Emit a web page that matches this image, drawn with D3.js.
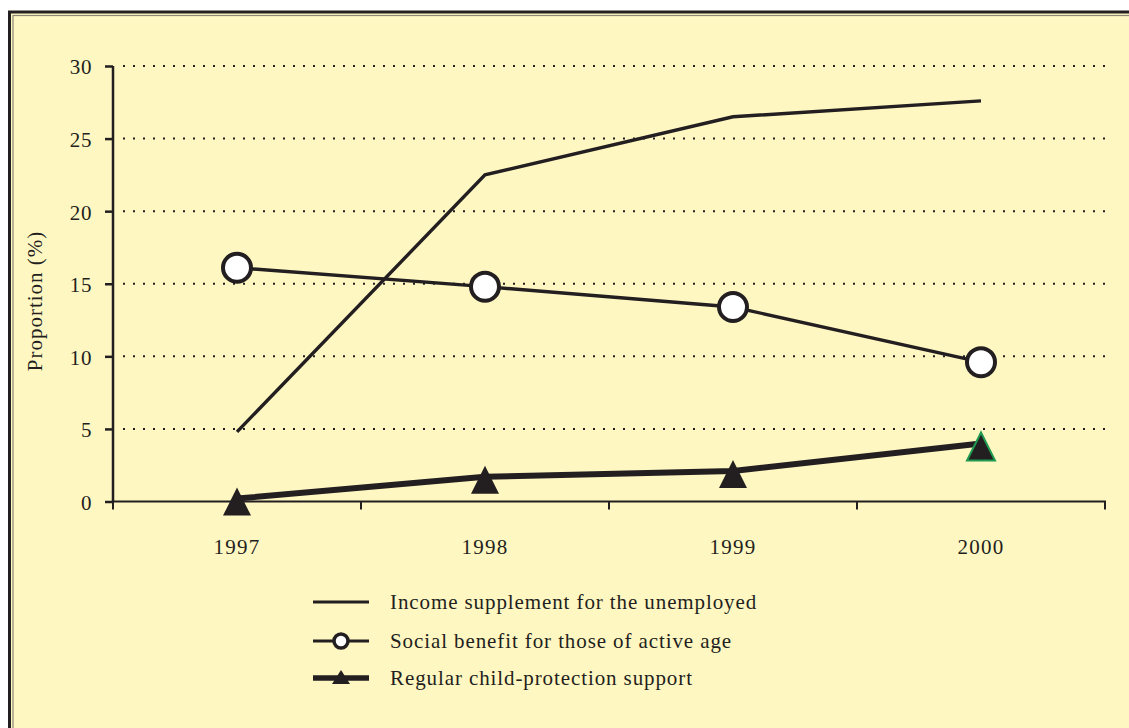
<!DOCTYPE html>
<html><head><meta charset="utf-8">
<script src="https://cdn.jsdelivr.net/npm/d3@7"></script>
<style>
html,body{margin:0;padding:0;background:#fff;}
svg{display:block;}
text{font-family:"Liberation Serif","DejaVu Serif",serif;fill:#231f20;}
</style></head>
<body>
<svg id="chart" width="1129" height="728"></svg>
<script>
const years = ["1997","1998","1999","2000"];
const yTicks = [0,5,10,15,20,25,30];
const incomeSupplement = [4.8,22.5,26.5,27.6];
const socialBenefit = [16.1,14.8,13.4,9.6];
const childProtection = [0.2,1.7,2.1,4.0];
const legendLabels = ["Income supplement for the unemployed","Social benefit for those of active age","Regular child-protection support"];
const yLabel = "Proportion (%)";

const ink = "#231f20";
const svg = d3.select("#chart");

// frame
svg.append("rect").attr("x",9.5).attr("y",12).attr("width",1200).attr("height",800)
  .attr("fill","#fff7c2").attr("stroke","#231f20").attr("stroke-width",3);
svg.append("rect").attr("x",13).attr("y",15.5).attr("width",1200).attr("height",800)
  .attr("fill","none").attr("stroke","#8a8678").attr("stroke-width",1.2);

const m = {left:113, right:1105, top:66, bottom:501.5};
const x = d3.scaleBand().domain(years).range([m.left,m.right]);
const y = d3.scaleLinear().domain([0,30]).range([m.bottom,m.top]);

// gridlines
svg.append("g").selectAll("line").data(yTicks.filter(d=>d>0)).join("line")
  .attr("x1",123).attr("x2",1107).attr("y1",d=>y(d)).attr("y2",d=>y(d))
  .attr("stroke",ink).attr("stroke-width",2).attr("stroke-dasharray","2,8");

// y axis
const yAxis = svg.append("g").attr("transform",`translate(${m.left},0)`)
  .call(d3.axisLeft(y).tickValues(yTicks).tickSize(8).tickPadding(13).tickFormat(d3.format("d")));
yAxis.select(".domain").attr("stroke",ink).attr("stroke-width",2.5).attr("d",`M0,${m.top}V${m.bottom}`);
yAxis.selectAll(".tick line").attr("stroke",ink).attr("stroke-width",2.5);
yAxis.selectAll(".tick text").attr("font-size",21).attr("fill",ink).attr("font-family","Liberation Serif")
  .attr("letter-spacing","0.6px").attr("dy","0.38em");

// x axis
const xAxis = svg.append("g").attr("transform",`translate(0,${m.bottom})`)
  .call(d3.axisBottom(x).tickSize(0).tickPadding(38));
xAxis.select(".domain").attr("stroke",ink).attr("stroke-width",2).attr("d",`M${m.left},8V0H${m.right}V8`);
xAxis.selectAll(".tick line").remove();
xAxis.selectAll(".tick text").attr("font-size",21).attr("fill",ink).attr("font-family","Liberation Serif").attr("letter-spacing","1.2px");
// band boundary ticks
const bounds = years.slice(1).map(d=>x(d));
svg.append("g").selectAll("line").data(bounds).join("line")
  .attr("x1",d=>d).attr("x2",d=>d).attr("y1",m.bottom).attr("y2",m.bottom+8)
  .attr("stroke",ink).attr("stroke-width",2);

// y label
svg.append("text").attr("transform",`translate(42,${301}) rotate(-90)`)
  .attr("text-anchor","middle").attr("font-size",21).attr("letter-spacing","1px").text(yLabel);

const cx = d => x(d)+x.bandwidth()/2;
const line = d3.line().x((d,i)=>cx(years[i])).y(d=>y(d));

// child protection line
svg.append("path").datum(childProtection).attr("d",line).attr("fill","none")
  .attr("stroke",ink).attr("stroke-width",6).attr("stroke-linejoin","round");
// income line
svg.append("path").datum(incomeSupplement).attr("d",line).attr("fill","none")
  .attr("stroke",ink).attr("stroke-width",3.4);
// social line
svg.append("path").datum(socialBenefit).attr("d",line).attr("fill","none")
  .attr("stroke",ink).attr("stroke-width",3.4);

const tri = (px,py,s) => `M${px},${py-11*s}L${px+14*s},${py+17*s}L${px-14*s},${py+17*s}Z`;
svg.append("g").selectAll("path").data(childProtection).join("path")
  .attr("d",(d,i)=>tri(cx(years[i]),y(d),1))
  .attr("fill",ink)
  .attr("stroke",(d,i)=>i===3?"#1f9a50":"none").attr("stroke-width",2);

svg.append("g").selectAll("circle").data(socialBenefit).join("circle")
  .attr("cx",(d,i)=>cx(years[i])).attr("cy",d=>y(d)).attr("r",14)
  .attr("fill","#fff").attr("stroke",ink).attr("stroke-width",4);

// legend
const lg = svg.append("g");
const rowsY = [602,641,678];
const widths = [3,3.2,5.5];
legendLabels.forEach((lab,i)=>{
  lg.append("line").attr("x1",313).attr("x2",369).attr("y1",rowsY[i]).attr("y2",rowsY[i])
    .attr("stroke",ink).attr("stroke-width",widths[i]);
  if(i===1) lg.append("circle").attr("cx",341).attr("cy",rowsY[i]).attr("r",7)
    .attr("fill","#fff").attr("stroke",ink).attr("stroke-width",3.5);
  if(i===2) lg.append("path").attr("d",`M341,${rowsY[i]-8}L350,${rowsY[i]+6}L332,${rowsY[i]+6}Z`).attr("fill",ink);
  lg.append("text").attr("x",390).attr("y",rowsY[i]).attr("dy","0.35em")
    .attr("font-size",21).attr("letter-spacing","0.9px").text(lab);
});
</script>
</body></html>
